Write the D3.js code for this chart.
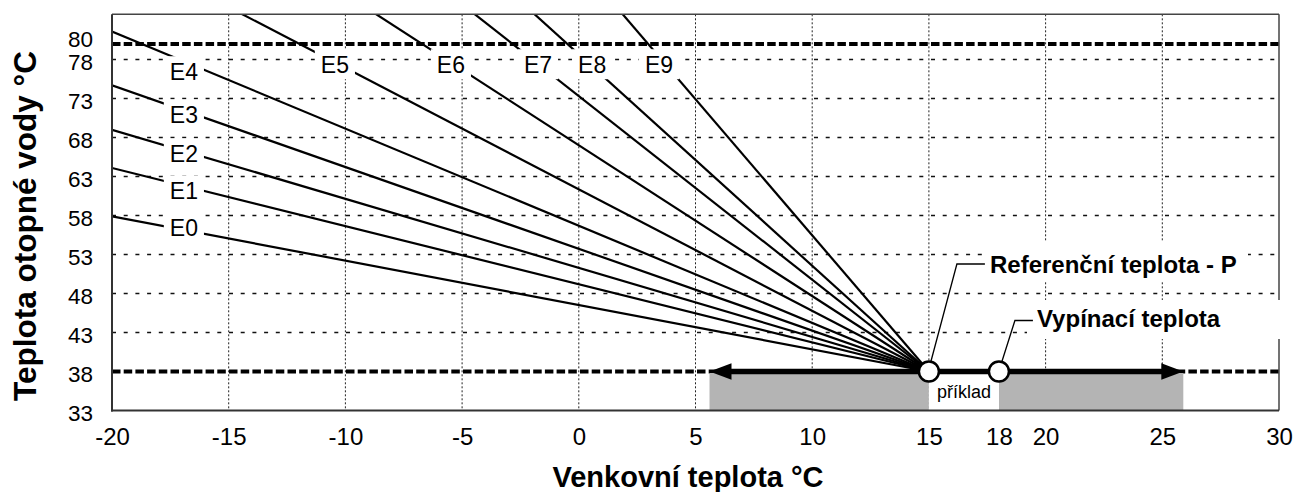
<!DOCTYPE html>
<html>
<head>
<meta charset="utf-8">
<script src="https://cdn.jsdelivr.net/npm/d3@7"></script>
<style>
  html, body { margin: 0; padding: 0; background: #fff; }
  svg { display: block; font-family: "Liberation Sans", Arial, Helvetica, sans-serif; }
</style>
</head>
<body>
<svg id="chart" width="1295" height="492"></svg>
<script>
// ---------------- data ----------------
const xTicks = [-20, -15, -10, -5, 0, 5, 10, 15, 18, 20, 25, 30];
const yTicks = [33, 38, 43, 48, 53, 58, 63, 68, 73, 78, 80];
const xGrid = [-15, -10, -5, 0, 5, 10, 15, 20, 25];
const yGrid = [43, 48, 53, 58, 63, 68, 73, 78];
const limitLines = [38, 80];               // min / max water temperature
const curveNames = ["E0", "E1", "E2", "E3", "E4", "E5", "E6", "E7", "E8", "E9"];
// water temperature of each heating curve extrapolated to -20 °C outdoor
const curveAtMinus20 = [57.9, 64.1, 69.0, 74.7, 81.6, 92.5, 105.7, 120.4, 132.9, 160.2];
const referencePoint = [15, 38];           // Referenční teplota - P
const cutoffPoint = [18, 38];              // Vypínací teplota
const exampleRange = [5.6, 25.9];          // příklad
const xTitle = "Venkovní teplota °C";
const yTitle = "Teplota otopné vody °C";
const referenceLabel = "Referenční teplota - P";
const cutoffLabel = "Vypínací teplota";
const exampleLabel = "příklad";

// ---------------- layout ----------------
const L = 112, R = 1279, T = 14.3, B = 410.5;
const svg = d3.select("#chart");
const x = d3.scaleLinear().domain([-20, 30]).range([L, R]);
const y = d3.scaleLinear().domain([33, 83.8]).range([B, T]);

svg.append("defs").append("clipPath").attr("id", "plotClip")
  .append("rect").attr("x", L).attr("y", T).attr("width", R - L).attr("height", B - T);

const plot = svg.append("g");

// vertical grid
plot.selectAll(".vgrid").data(xGrid).join("line")
  .attr("x1", d => x(d)).attr("x2", d => x(d)).attr("y1", T).attr("y2", B)
  .attr("stroke", "#222").attr("stroke-width", 1).attr("stroke-dasharray", "2,2");

// horizontal grid
plot.selectAll(".hgrid").data(yGrid).join("line")
  .attr("x1", L).attr("x2", R).attr("y1", d => y(d)).attr("y2", d => y(d))
  .attr("stroke", "#111").attr("stroke-width", 1.4).attr("stroke-dasharray", "4,7.7");

// thick dashed limit lines
plot.selectAll(".limit").data(limitLines).join("line")
  .attr("x1", L).attr("x2", R).attr("y1", d => y(d)).attr("y2", d => y(d))
  .attr("stroke", "#000").attr("stroke-width", 4).attr("stroke-dasharray", "8.5,3.2");

// grey example range (split by white gap between P and cutoff)
plot.append("rect")
  .attr("x", x(exampleRange[0])).attr("width", x(referencePoint[0]) - x(exampleRange[0]))
  .attr("y", y(38) + 1.5).attr("height", B - y(38) - 1.5).attr("fill", "#b4b4b4");
plot.append("rect")
  .attr("x", x(cutoffPoint[0])).attr("width", x(exampleRange[1]) - x(cutoffPoint[0]))
  .attr("y", y(38) + 1.5).attr("height", B - y(38) - 1.5).attr("fill", "#b4b4b4");
plot.append("rect")
  .attr("x", x(referencePoint[0])).attr("width", x(cutoffPoint[0]) - x(referencePoint[0]))
  .attr("y", y(38) + 1.5).attr("height", B - y(38) - 1.5).attr("fill", "#fff");

// heating curves
const curves = curveNames.map((n, i) => ({ name: n, pts: [[-20, curveAtMinus20[i]], referencePoint] }));
const line = d3.line().x(d => x(d[0])).y(d => y(d[1]));
plot.append("g").attr("clip-path", "url(#plotClip)")
  .selectAll("path").data(curves).join("path")
  .attr("d", d => line(d.pts)).attr("fill", "none")
  .attr("stroke", "#000").attr("stroke-width", 2.2);

// curve labels (positions in data coordinates)
const curveLabelPos = [[-16.92, 56.4], [-16.92, 61.15], [-16.92, 65.95], [-16.92, 70.95], [-16.92, 76.5],
                       [-10.45, 77.4], [-5.48, 77.4], [-1.75, 77.4], [0.57, 77.4], [3.44, 77.4]];
const lg = plot.append("g");
curves.forEach((c, i) => {
  const [lx, ly] = curveLabelPos[i];
  const g = lg.append("g").attr("transform", `translate(${x(lx)},${y(ly)})`);
  const r = g.append("rect").attr("fill", "#fff");
  const t = g.append("text").text(c.name).attr("text-anchor", "middle")
    .attr("y", 8.3).attr("font-size", 23).attr("fill", "#000");
  const w = t.node().getComputedTextLength() + 12;
  r.attr("x", -w / 2).attr("width", w).attr("y", -15).attr("height", 30);
});

// arrow across example range
const ay = y(38);
const ax0 = x(exampleRange[0]), ax1 = x(exampleRange[1]);
plot.append("line").attr("x1", ax0 + 18).attr("x2", ax1 - 18).attr("y1", ay).attr("y2", ay)
  .attr("stroke", "#000").attr("stroke-width", 5.5);
plot.append("path").attr("d", `M${ax0},${ay} L${ax0 + 22},${ay - 8.3} L${ax0 + 22},${ay + 8.3} Z`).attr("fill", "#000");
plot.append("path").attr("d", `M${ax1},${ay} L${ax1 - 22},${ay - 8.3} L${ax1 - 22},${ay + 8.3} Z`).attr("fill", "#000");

// example text
plot.append("text").text(exampleLabel)
  .attr("x", (x(referencePoint[0]) + x(cutoffPoint[0])) / 2).attr("y", 397.5)
  .attr("text-anchor", "middle").attr("font-size", 18).attr("fill", "#000");

// frame
svg.append("line").attr("x1", L).attr("x2", R).attr("y1", T).attr("y2", T).attr("stroke", "#444").attr("stroke-width", 1.5);
svg.append("line").attr("x1", R).attr("x2", R).attr("y1", T).attr("y2", B).attr("stroke", "#444").attr("stroke-width", 1.5);
svg.append("line").attr("x1", L).attr("x2", L).attr("y1", T).attr("y2", B + 1).attr("stroke", "#333").attr("stroke-width", 2);
svg.append("line").attr("x1", L - 1).attr("x2", R).attr("y1", B).attr("y2", B).attr("stroke", "#333").attr("stroke-width", 2);

// callouts
function callout(pt, pts, label, tx, ty, box) {
  const cx = x(pt[0]), cy = y(pt[1]);
  svg.append("rect").attr("x", box[0]).attr("y", box[1]).attr("width", box[2]).attr("height", box[3]).attr("fill", "#fff");
  svg.append("polyline").attr("points", pts.map(p => [cx + p[0], cy + p[1]].join(",")).join(" "))
    .attr("fill", "none").attr("stroke", "#000").attr("stroke-width", 1.3);
  svg.append("text").text(label).attr("x", tx).attr("y", ty)
    .attr("font-size", 24).attr("font-weight", "bold").attr("fill", "#000");
}
callout(referencePoint, [[2, -10], [28, -107.5], [56, -107.5]], referenceLabel, 990, 273, [982, 242, 266, 40]);
callout(cutoffPoint, [[3, -10], [16, -51], [34, -51]], cutoffLabel, 1037, 327, [1027, 300, 268, 39]);

// circles
svg.selectAll(".pt").data([referencePoint, cutoffPoint]).join("circle")
  .attr("cx", d => x(d[0])).attr("cy", d => y(d[1])).attr("r", 10)
  .attr("fill", "#fff").attr("stroke", "#000").attr("stroke-width", 2.5);

// axes
const xAxis = svg.append("g").attr("transform", `translate(0,${B})`)
  .call(d3.axisBottom(x).tickValues(xTicks).tickSize(0).tickPadding(0).tickFormat(d => String(d).replace("−", "-")));
xAxis.select(".domain").remove();
xAxis.selectAll("text").attr("y", 34.5).attr("dy", null).attr("font-size", 24)
  .attr("font-family", "Liberation Sans, Arial, sans-serif").attr("fill", "#000");

const yAxis = svg.append("g").attr("transform", `translate(${L},0)`)
  .call(d3.axisLeft(y).tickValues(yTicks).tickSize(0).tickPadding(0));
yAxis.select(".domain").remove();
yAxis.selectAll("text").attr("x", -19).attr("dy", null)
  .attr("y", d => d === 80 ? 3 : 10.4)
  .attr("font-size", 22.5).attr("font-family", "Liberation Sans, Arial, sans-serif").attr("fill", "#000");

// titles
svg.append("text").text(xTitle).attr("x", 688).attr("y", 487).attr("text-anchor", "middle")
  .attr("font-size", 29).attr("font-weight", "bold").attr("fill", "#000");
svg.append("text").text(yTitle).attr("transform", "translate(36,226) rotate(-90)").attr("text-anchor", "middle")
  .attr("font-size", 31.5).attr("font-weight", "bold").attr("fill", "#000");
</script>
</body>
</html>
